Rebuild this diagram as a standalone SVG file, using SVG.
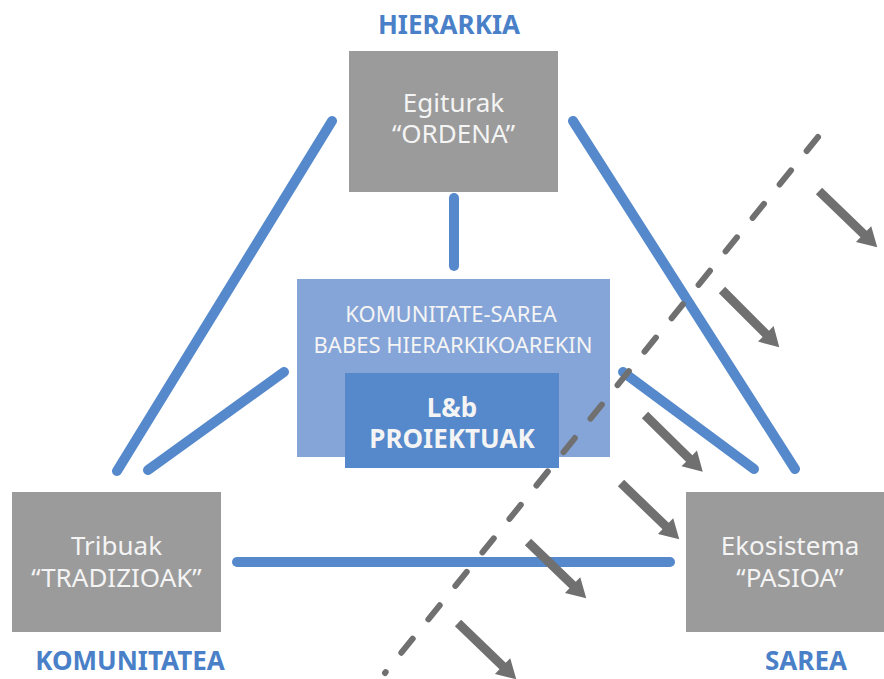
<svg xmlns="http://www.w3.org/2000/svg" xmlns:xlink="http://www.w3.org/1999/xlink" width="884" height="679" viewBox="0 0 884 679">
  <style>
    .box { fill: #9b9b9b; }
    .lbl { font-family: "Noto Sans", "Open Sans", sans-serif; fill: #f4f4f4; text-anchor: middle; }
    .big { font-size: 26px; }
    .mid { font-size: 22px; }
    .bold { font-weight: bold; }
    .corner { font-family: "Noto Sans", "Open Sans", sans-serif; font-weight: bold; font-size: 26px; fill: #4a80c8; text-anchor: middle; }
    .blue { stroke: #5589cb; stroke-width: 10; stroke-linecap: round; fill: none; }
    .dash { stroke: #707070; stroke-width: 6; stroke-linecap: round; stroke-dasharray: 18 25; fill: none; }
    .arr { fill: #707070; }
  </style>
  <defs>
    <path id="arrow" d="M0,-4.5 L62,-4.5 L62,-11 L81,0 L62,11 L62,4.5 L0,4.5 Z"/>
  </defs>
  <rect width="884" height="679" fill="#ffffff"/>

  <g id="connectors">
    <line class="blue" x1="332" y1="121" x2="117" y2="471"/>
    <line class="blue" x1="573" y1="121" x2="795" y2="469"/>
    <line class="blue" x1="454" y1="198" x2="454" y2="266"/>
    <line class="blue" x1="284" y1="372" x2="148" y2="470"/>
    <line class="blue" x1="623" y1="372" x2="754" y2="469"/>
    <line class="blue" x1="237" y1="562" x2="670" y2="562"/>
  </g>

  <g id="node-egiturak">
    <rect class="box" x="349" y="51" width="209" height="141"/>
    <text class="lbl big"><tspan x="453.5" y="112">Egiturak</tspan><tspan x="453.5" y="143">“ORDENA”</tspan></text>
  </g>

  <g id="node-tribuak">
    <rect class="box" x="12" y="492" width="209" height="140"/>
    <text class="lbl big"><tspan x="116.5" y="555">Tribuak</tspan><tspan x="116.5" y="587">“TRADIZIOAK”</tspan></text>
  </g>

  <g id="node-ekosistema">
    <rect class="box" x="686" y="492" width="209" height="140"/>
    <text class="lbl big"><tspan x="790" y="555">Ekosistema</tspan><tspan x="790" y="587">“PASIOA”</tspan></text>
  </g>

  <g id="node-komunitate-sarea">
    <rect x="297" y="279" width="313" height="178" fill="#85a4d8"/>
    <text class="lbl mid"><tspan x="451" y="322">KOMUNITATE-SAREA</tspan><tspan x="453" y="353">BABES HIERARKIKOAREKIN</tspan></text>
  </g>

  <g id="node-lb-proiektuak">
    <rect x="345" y="373" width="214" height="95" fill="#5689cb"/>
    <text class="lbl big bold"><tspan x="452" y="417">L&amp;b</tspan><tspan x="452" y="448">PROIEKTUAK</tspan></text>
  </g>

  <g id="label-hierarkia"><text class="corner" x="449" y="34">HIERARKIA</text></g>
  <g id="label-komunitatea"><text class="corner" x="130" y="670">KOMUNITATEA</text></g>
  <g id="label-sarea"><text class="corner" x="806" y="670">SAREA</text></g>

  <g id="boundary">
    <line class="dash" x1="818" y1="137" x2="385" y2="673"/>
  </g>

  <g id="arrows" class="arr">
    <use xlink:href="#arrow" transform="translate(819,191) rotate(44)"/>
    <use xlink:href="#arrow" transform="translate(722,290) rotate(45)"/>
    <use xlink:href="#arrow" transform="translate(645,415) rotate(44.5)"/>
    <use xlink:href="#arrow" transform="translate(621,483) rotate(44)"/>
    <use xlink:href="#arrow" transform="translate(528,542) rotate(44)"/>
    <use xlink:href="#arrow" transform="translate(458,623) rotate(44)"/>
  </g>
</svg>
